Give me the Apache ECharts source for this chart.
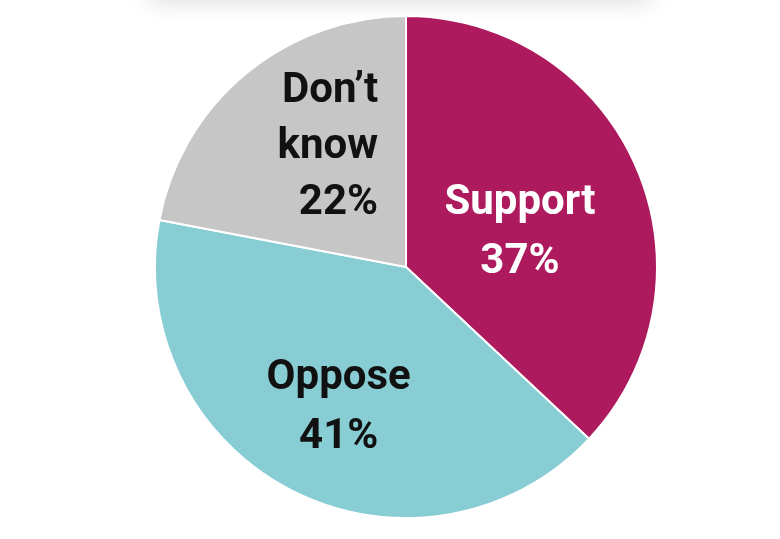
<!DOCTYPE html>
<html>
<head>
<meta charset="utf-8">
<script src="https://cdn.jsdelivr.net/npm/echarts@6/dist/echarts.min.js"></script>
<style>
  html, body { margin: 0; padding: 0; background: #fff; }
  #chart { width: 780px; height: 539px; }
</style>
</head>
<body>
<div id="chart"></div>
<script>
const categories = ['Support', 'Oppose', 'Don\u2019t\nknow']
const values = [37, 41, 22]
const sliceColors = ['#AD1A5E', '#88CDD4', '#C6C6C6']
const labelColors = ['#FFFFFF', '#111111', '#111111']

const chart = echarts.init(document.getElementById('chart'))

// nudges for the inside labels (dx, dy), per slice
const labelShift = [[-4, 17], [-9, 27], [4, -20]]

chart.setOption({
  backgroundColor: '#fff',
  animation: false,
  graphic: [{
    type: 'rect',
    shape: { x: 150, y: -40, width: 500, height: 40 },
    style: { fill: '#fff', shadowBlur: 22, shadowColor: 'rgba(0,0,0,0.14)', shadowOffsetY: 2 }
  }],
  series: [{
    type: 'pie',
    center: [406, 267],
    radius: 251,
    startAngle: 90,
    clockwise: true,
    itemStyle: { borderColor: '#fff', borderWidth: 2 },
    labelLine: { show: false },
    label: {
      show: true,
      position: 'inside',
      fontFamily: 'Roboto, "Liberation Sans", sans-serif',
      fontWeight: 'bold',
      fontSize: 42,
      lineHeight: 59,
      formatter: p => p.name + '\n' + p.value + '%'
    },
    labelLayout: p => ({ dx: labelShift[p.dataIndex][0], dy: labelShift[p.dataIndex][1] }),
    data: categories.map((c, i) => ({
      name: c,
      value: values[i],
      itemStyle: { color: sliceColors[i] },
      label: i === 2 ? {
        color: labelColors[i],
        lineHeight: 56,
        formatter: p => p.name.split('\n').concat(p.value + '%').map(s => '{r|' + s + '}').join('\n'),
        rich: {
          r: {
            width: 100, align: 'right', color: labelColors[i],
            fontFamily: 'Roboto, "Liberation Sans", sans-serif',
            fontWeight: 'bold', fontSize: 42, lineHeight: 56
          }
        }
      } : { color: labelColors[i] }
    }))
  }]
})
</script>
</body>
</html>
